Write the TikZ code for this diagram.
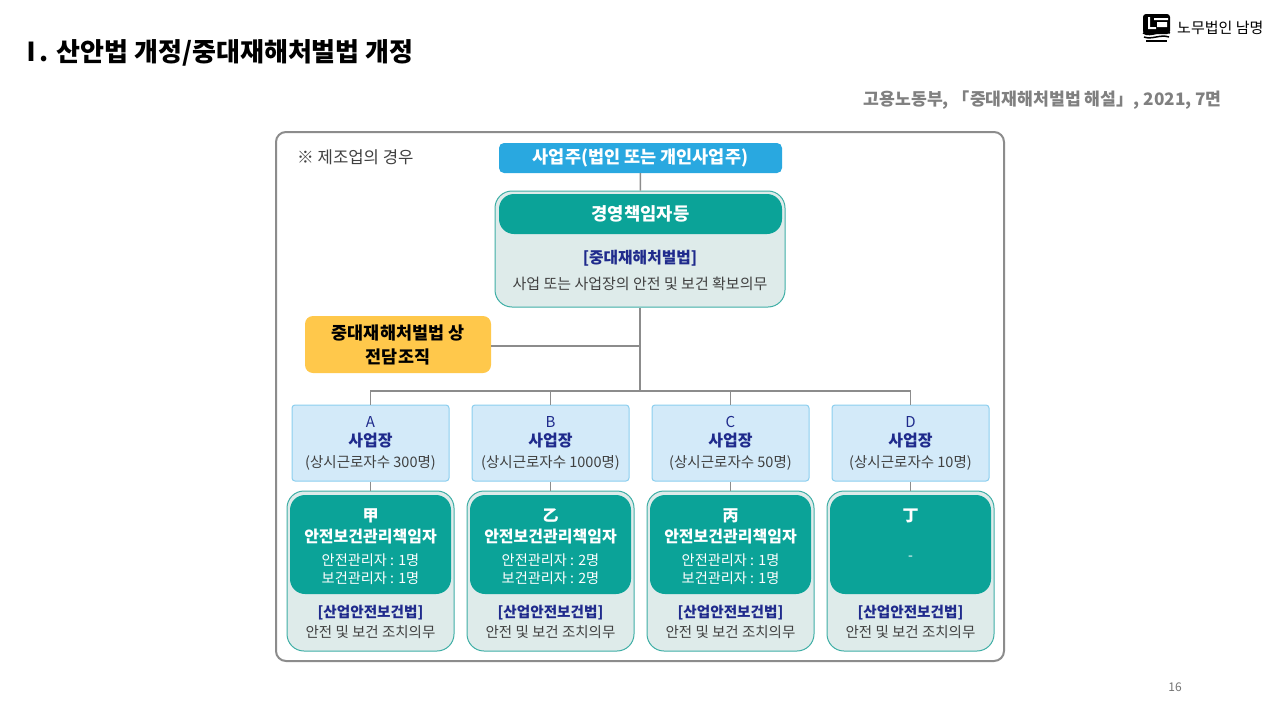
\documentclass[tikz,border=0pt]{standalone}
\usepackage{fontspec}
\setmainfont{Noto Sans CJK KR}
\definecolor{linegray}{HTML}{8C8C8C}
\definecolor{skyblue}{HTML}{29A8E0}
\definecolor{tealfill}{HTML}{0BA398}
\definecolor{tealedge}{HTML}{3FAFA6}
\definecolor{paleteal}{HTML}{DEEBEA}
\definecolor{paleblue}{HTML}{D3EAF9}
\definecolor{blueedge}{HTML}{8CCFEF}
\definecolor{navy}{HTML}{1F2A8C}
\definecolor{amber}{HTML}{FFC84B}
\definecolor{bodygray}{HTML}{404040}
\tikzset{
  box/.style={inner sep=0pt,align=center},
  panel/.style={box,fill=paleteal,draw=tealedge,line width=1pt,rounded corners=17pt},
  header/.style={box,fill=tealfill,text=white,rounded corners=15pt},
  sitebox/.style={box,fill=paleblue,draw=blueedge,line width=1pt,rounded corners=3pt,
    minimum width=157pt,minimum height=76pt},
  link/.style={draw=linegray,line width=1.5pt},
  lawtext/.style={font=\fontsize{14.6}{18}\selectfont\bfseries,text=navy},
  dutytext/.style={font=\fontsize{14.5}{18}\selectfont,text=bodygray},
}
\begin{document}
\begin{tikzpicture}[x=1pt,y=-1pt]
  \useasboundingbox (0,0) rectangle (1280,720);
  \fill[white] (0,0) rectangle (1280,720);

  % heading
  \node[anchor=west,inner sep=0pt,font=\fontsize{26}{28}\selectfont\bfseries] (title) at (18.5,52.5) {Ⅰ\hspace{-5pt}. 산안법 개정/중대재해처벌법 개정};
  \node[anchor=east,inner sep=0pt,text=black!50,font=\fontsize{17.2}{20}\selectfont\bfseries] (source) at (1222,100) {고용노동부, 「중대재해처벌법 해설」, 2021, 7면};
  \node[inner sep=0pt,text=black!55,font=\fontsize{12}{14}\selectfont] (page) at (1175,687) {16};

  % logo
  \fill[black,rounded corners=3pt] (1143,14) rectangle (1170,34);
  \fill[white] (1148,17) rectangle (1150,27) (1148,27) rectangle (1156,29);
  \fill[white] (1154,18) rectangle (1168,20) (1157,22) rectangle (1167,27);
  \draw[black,line width=1.5pt] (1143,33) .. controls (1152,38) and (1160,29) .. (1170,33);
  \draw[black,line width=1.5pt] (1144,37) .. controls (1152,40) and (1160,34) .. (1169,37);
  \draw[black,line width=1.5pt] (1146,41) -- (1167,41);
  \node[anchor=west,inner sep=0pt,font=\fontsize{15}{17}\selectfont] (firm) at (1177,27.5) {노무법인 남명};

  % frame
  \draw[draw=linegray,line width=2pt,rounded corners=10pt,fill=white] (276,132) rectangle (1004,661);
  \node[anchor=west,inner sep=0pt,text=bodygray,font=\fontsize{16.7}{20}\selectfont] (note) at (297,157) {※ 제조업의 경우};

  % upper part
  \node[box,fill=skyblue,text=white,rounded corners=5pt,minimum width=283pt,minimum height=30pt,
    font=\fontsize{17.5}{21}\selectfont\bfseries] (owner) at (640.5,158) {\raisebox{-1pt}{사업주(법인 또는 개인사업주)}};
  \node[panel,minimum width=290pt,minimum height=116pt] (ceopanel) at (640,249) {};
  \node[header,minimum width=283pt,minimum height=40pt,font=\fontsize{17.7}{21}\selectfont\bfseries] (ceo) at (640.5,214) {\raisebox{-1pt}{경영책임자등}};
  \node[inner sep=0pt,text=navy,font=\fontsize{15.8}{19}\selectfont\bfseries] (ceolaw) at (640,258) {[중대재해처벌법]};
  \node[dutytext,inner sep=0pt,font=\fontsize{15}{18}\selectfont] (ceoduty) at (640,284) {사업 또는 사업장의 안전 및 보건 확보의무};
  \node[box,fill=amber,rounded corners=8pt,minimum width=186pt,minimum height=57pt,
    font=\fontsize{17.4}{24}\selectfont\bfseries] (dedicated) at (398,344.5) {\raisebox{-1pt}{중대재해처벌법 상}\\\raisebox{-1pt}{전담조직}};

  % connectors above the sites
  \coordinate (bus) at (640,391);
  \coordinate (tap) at (640,346);
  \draw[link] (owner) -- (ceopanel);
  \draw[link] (ceopanel) -- (bus);
  \draw[link] (tap -| dedicated.east) -- (tap);

  % sites
  \foreach \n/\cx/\hanja/\staff/\num in
    {A/371/甲/안전보건관리책임자/300,
     B/551/乙/안전보건관리책임자/1000,
     C/731/丙/안전보건관리책임자/50,
     D/911/丁/{}/10} {
    \node[sitebox] (site\n) at (\cx-0.5,443) {};
    \node[inner sep=0pt,text=navy,font=\fontsize{15}{18}\selectfont] (letter\n) at (\cx-0.5,421.5) {\n};
    \node[inner sep=0pt,text=navy,font=\fontsize{16}{19}\selectfont\bfseries] (sitename\n) at (\cx-0.5,440.5) {사업장};
    \node[inner sep=0pt,text=bodygray,font=\fontsize{14.5}{18}\selectfont] (workers\n) at (\cx-0.5,463) {(상시근로자수 \num 명)};
    \node[panel,minimum width=167pt,minimum height=160pt] (panel\n) at (\cx-0.5,571) {};
    \node[header,minimum width=161pt,minimum height=99pt] (head\n) at (\cx-0.5,544.5) {};
    \node[inner sep=0pt,text=white,font=\fontsize{16}{19}\selectfont\bfseries] (hanja\n) at (\cx-0.5,516) {\hanja};
    \node[inner sep=0pt,text=white,font=\fontsize{16}{19}\selectfont\bfseries] (role\n) at (\cx-0.5,536.5) {\staff};
    \node[lawtext,inner sep=0pt] (law\n) at (\cx-0.5,613) {[산업안전보건법]};
    \node[dutytext,inner sep=0pt] (duty\n) at (\cx-0.5,632) {안전 및 보건 조치의무};
    \draw[link] (bus) -| (site\n.north);
    \draw[link] (site\n.south) -- (panel\n.north);
  }
  \foreach \n/\cx/\safe/\health in {A/371/1/1,B/551/2/2,C/731/1/1} {
    \node[inner sep=0pt,text=white,font=\fontsize{14.2}{17.5}\selectfont,align=center] (count\n) at (\cx-0.5,569) {안전관리자 : \safe 명\\보건관리자 : \health 명};
  }
  \node[inner sep=0pt,text=white,font=\fontsize{14}{16}\selectfont] (countD) at (910.5,558) {-};
\end{tikzpicture}
\end{document}
